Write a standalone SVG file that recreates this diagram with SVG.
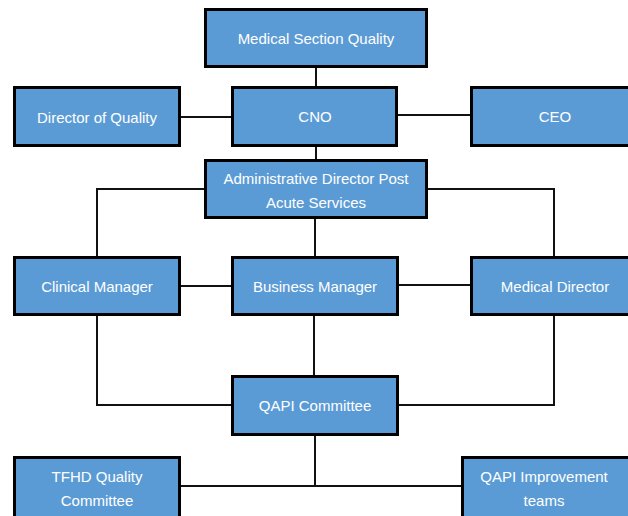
<svg xmlns="http://www.w3.org/2000/svg" width="628" height="516" viewBox="0 0 628 516">
<style>
.box{fill:#5B9BD5;stroke:#000;stroke-width:3}
.lbl{fill:#fff;font-family:"Liberation Sans",Arial,sans-serif;font-size:15px;text-anchor:middle;dominant-baseline:central}
.con{fill:none;stroke:#111;stroke-width:2}
</style>
<rect width="628" height="516" fill="#fff"/>
<g id="connectors">
<path class="con" d="M316 68V86"/>
<path class="con" d="M181 117H231"/>
<path class="con" d="M398 115H470"/>
<path class="con" d="M316 147V159"/>
<path class="con" d="M204 189H97V256"/>
<path class="con" d="M428 189H554V256"/>
<path class="con" d="M315 219V256"/>
<path class="con" d="M181 286H231"/>
<path class="con" d="M399 285H470"/>
<path class="con" d="M97 316V405H231"/>
<path class="con" d="M554 316V405H399"/>
<path class="con" d="M314 316V375"/>
<path class="con" d="M315 436V486"/>
<path class="con" d="M181 486H461"/>
</g>
<g id="msq"><rect class="box" x="205.5" y="9.5" width="221" height="57"/><text class="lbl" x="316" y="38">Medical Section Quality</text></g>
<g id="doq"><rect class="box" x="14.5" y="87.5" width="165" height="58"/><text class="lbl" x="97" y="117">Director of Quality</text></g>
<g id="cno"><rect class="box" x="232.5" y="87.5" width="164" height="58"/><text class="lbl" x="315" y="116">CNO</text></g>
<g id="ceo"><rect class="box" x="471.5" y="87.5" width="170" height="58"/><text class="lbl" x="555" y="116">CEO</text></g>
<g id="admin"><rect class="box" x="205.5" y="160.5" width="221" height="57"/><text class="lbl" x="316" y="178">Administrative Director Post</text><text class="lbl" x="316" y="202">Acute Services</text></g>
<g id="clinical"><rect class="box" x="14.5" y="257.5" width="165" height="57"/><text class="lbl" x="97" y="286">Clinical Manager</text></g>
<g id="business"><rect class="box" x="232.5" y="257.5" width="165" height="57"/><text class="lbl" x="315" y="286">Business Manager</text></g>
<g id="meddir"><rect class="box" x="471.5" y="257.5" width="170" height="57"/><text class="lbl" x="555" y="286">Medical Director</text></g>
<g id="qapi"><rect class="box" x="232.5" y="376.5" width="165" height="58"/><text class="lbl" x="315" y="405">QAPI Committee</text></g>
<g id="tfhd"><rect class="box" x="14.5" y="457.5" width="165" height="70"/><text class="lbl" x="97" y="476">TFHD Quality</text><text class="lbl" x="97" y="500">Committee</text></g>
<g id="qapiimp"><rect class="box" x="462.5" y="457.5" width="180" height="70"/><text class="lbl" x="544" y="476">QAPI Improvement</text><text class="lbl" x="544" y="500">teams</text></g>
</svg>
